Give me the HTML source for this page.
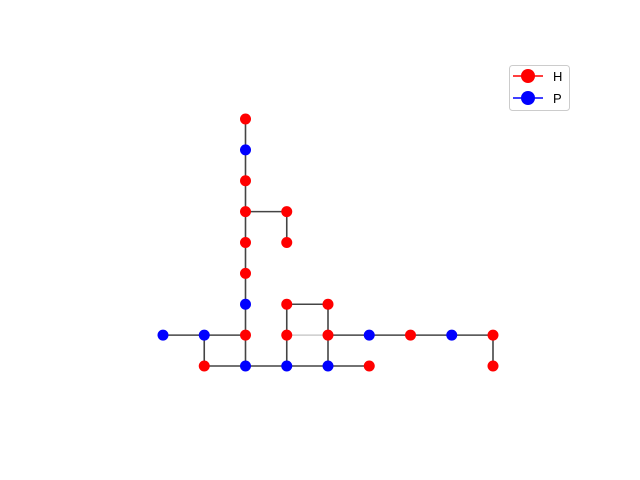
<!DOCTYPE html>
<html><head><meta charset="utf-8"><style>body{margin:0;background:#fff}svg{display:block}</style></head>
<body>
<svg id="chart" width="640" height="480" xmlns="http://www.w3.org/2000/svg">
<g id="edges"></g>
<g id="nodes"></g>
<g>
<rect x="509.5" y="65.5" width="60" height="45" rx="3" fill="#fff" stroke="#ccc"/>
<g>
<line x1="513" y1="76" x2="543" y2="76" stroke="red" stroke-width="1.5"/>
<circle cx="528" cy="76" r="7" fill="red"/>
<text x="553" y="81" font-family="Liberation Sans, sans-serif" font-size="13">H</text></g>
<g>
<line x1="513" y1="98" x2="543" y2="98" stroke="blue" stroke-width="1.5"/>
<circle cx="528" cy="98" r="7" fill="blue"/>
<text x="553" y="103" font-family="Liberation Sans, sans-serif" font-size="13">P</text></g>
</g>
</svg>
<script>
const nodeCols = [2,2,2,2,2,2,2,2,2, 3,3,3,4, 0,1,3,4,5,6,7,8, 1,3,4,5,8];
const nodeRows = [0,1,2,3,4,5,6,7,8, 3,4,6,6, 7,7,7,7,7,7,7,7, 8,8,8,8,8];
const nodeTypes = ["H","P","H","H","H","H","P","H","P", "H","H","H","H", "P","P","H","H","P","H","P","H", "H","P","P","H","H"];
const edgeFrom = [[2,0],[2,3],[3,3],[0,7],[1,7],[1,8],[3,6],[4,6],[3,6],[4,7],[8,7],[3,7]];
const edgeTo   = [[2,8],[3,3],[3,4],[2,7],[1,8],[5,8],[3,8],[4,8],[4,6],[8,7],[8,8],[4,7]];
const xs = i => 163 + 41.25*i;
const ys = j => 119 + 30.875*j;
const NS = "http://www.w3.org/2000/svg";
const eg = document.getElementById("edges"), ng = document.getElementById("nodes");
edgeFrom.forEach((f,k)=>{
  const t = edgeTo[k];
  const l = document.createElementNS(NS,"line");
  l.setAttribute("x1",xs(f[0]));l.setAttribute("y1",ys(f[1]));
  l.setAttribute("x2",xs(t[0]));l.setAttribute("y2",ys(t[1]));
  l.setAttribute("stroke", k===11 ? "#ccc" : "#444");
  l.setAttribute("stroke-width","1.6");
  
  
  eg.appendChild(l);
});
nodeCols.forEach((c,k)=>{
  const ci = document.createElementNS(NS,"circle");
  ci.setAttribute("cx",xs(c));ci.setAttribute("cy",ys(nodeRows[k]));ci.setAttribute("r","5.5");
  ci.setAttribute("fill", nodeTypes[k]==="H" ? "red" : "blue");
  
  
  ng.appendChild(ci);
});
</script>
</body></html>
